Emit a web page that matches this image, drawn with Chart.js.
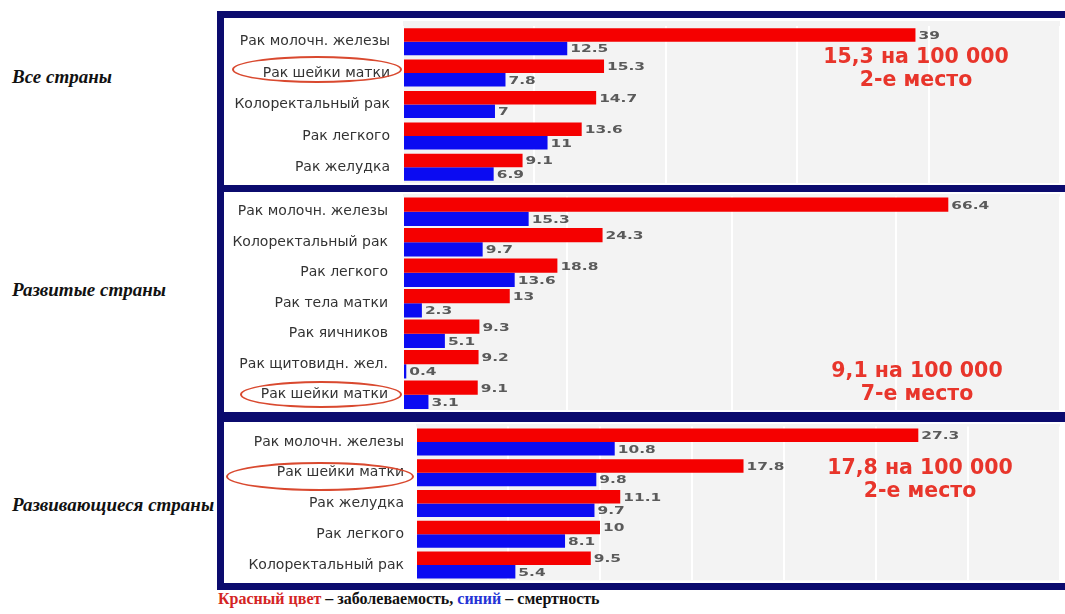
<!DOCTYPE html>
<html lang="ru">
<head>
<meta charset="utf-8">
<title>Заболеваемость и смертность от рака</title>
<script src="https://cdn.jsdelivr.net/npm/chart.js@4.4.1/dist/chart.umd.min.js"></script>
<style>
    body { margin: 0; width: 1065px; height: 614px; background: #fff; position: relative; overflow: hidden; }
    .frame { position: absolute; left: 217px; top: 11px; width: 870px; height: 579px; background: #0b0b6e; }
    canvas { position: absolute; left: 224px; display: block; }
    .region { position: absolute; left: 12px; font: italic bold 19px "Liberation Serif", serif; color: #111; white-space: nowrap; }
    .note { position: absolute; width: 240px; text-align: center; font: bold 20.5px "DejaVu Sans", sans-serif; color: #e8352b; line-height: 23px; z-index: 2; }
    .ring { position: absolute; border: 2px solid #d9492f; border-radius: 50%; box-sizing: border-box; z-index: 2; }
    .legend { position: absolute; left: 218px; top: 590px; font: bold 16px "Liberation Serif", serif; color: #111; white-space: nowrap; }
</style>
</head>
<body>
<div class="frame"></div>
<canvas id="chartAll" width="841" height="167" style="top:18px"></canvas>
<canvas id="chartDeveloped" width="841" height="220" style="top:192px"></canvas>
<canvas id="chartDeveloping" width="841" height="161" style="top:422px"></canvas>

<div class="region" style="top:66px">Все страны</div>
<div class="region" style="top:279px">Развитые страны</div>
<div class="region" style="top:494px">Развивающиеся страны</div>

<div class="note" style="left:796px; top:45px">15,3 на 100 000<br>2-е место</div>
<div class="note" style="left:797px; top:359px">9,1 на 100 000<br>7-е место</div>
<div class="note" style="left:800px; top:456px">17,8 на 100 000<br>2-е место</div>

<div class="ring" style="left:232px; top:56px; width:170px; height:27px"></div>
<div class="ring" style="left:240px; top:381px; width:162px; height:27px"></div>
<div class="ring" style="left:226px; top:462px; width:188px; height:29px"></div>

<div class="legend"><span style="color:#d42424">Красный цвет</span> – заболеваемость, <span style="color:#2433d6">синий</span> – смертность</div>

<script>
// Все страны
const labelsAll = ['Рак молочн. железы', 'Рак шейки матки', 'Колоректальный рак', 'Рак легкого', 'Рак желудка'];
const incidenceAll = [39, 15.3, 14.7, 13.6, 9.1];
const mortalityAll = [12.5, 7.8, 7, 11, 6.9];

// Развитые страны
const labelsDeveloped = ['Рак молочн. железы', 'Колоректальный рак', 'Рак легкого', 'Рак тела матки', 'Рак яичников', 'Рак щитовидн. жел.', 'Рак шейки матки'];
const incidenceDeveloped = [66.4, 24.3, 18.8, 13, 9.3, 9.2, 9.1];
const mortalityDeveloped = [15.3, 9.7, 13.6, 2.3, 5.1, 0.4, 3.1];

// Развивающиеся страны
const labelsDeveloping = ['Рак молочн. железы', 'Рак шейки матки', 'Рак желудка', 'Рак легкого', 'Колоректальный рак'];
const incidenceDeveloping = [27.3, 17.8, 11.1, 10, 9.5];
const mortalityDeveloping = [10.8, 9.8, 9.7, 8.1, 5.4];

Chart.defaults.font.family = '"DejaVu Sans", sans-serif';

// white canvas, grey plot area under the grid
const plotBackground = {
    id: 'plotBackground',
    beforeDraw: function(chart, args, opts) {
        const c = chart.ctx;
        const a = chart.chartArea;
        c.save();
        c.fillStyle = '#ffffff';
        c.fillRect(0, 0, chart.width, chart.height);
        c.fillStyle = '#f3f3f3';
        c.fillRect(a.left, opts.top, a.right - a.left, a.bottom - opts.top);
        c.restore();
    }
};

// numbers at the end of each bar
const valueLabels = {
    id: 'valueLabels',
    afterDatasetsDraw: function(chart) {
        const c = chart.ctx;
        c.save();
        c.font = 'bold 11px "DejaVu Sans"';
        c.fillStyle = '#5a5a5a';
        c.textBaseline = 'middle';
        chart.data.datasets.forEach(function(ds, i) {
            chart.getDatasetMeta(i).data.forEach(function(bar, j) {
                c.save();
                c.translate(bar.x + 3, bar.y + 1);
                c.scale(1.4, 1);
                c.fillText(String(ds.data[j]), 0, 0);
                c.restore();
            });
        });
        c.restore();
    }
};

function drawPanel(id, labels, incidence, mortality, cfg) {
    const ctx = document.getElementById(id).getContext('2d');
    return new Chart(ctx, {
        type: 'bar',
        data: {
            labels: labels,
            datasets: [{
                label: 'Заболеваемость',
                data: incidence,
                backgroundColor: '#f50000',
                categoryPercentage: cfg.catPct,
                barPercentage: 1
            }, {
                label: 'Смертность',
                data: mortality,
                backgroundColor: '#0b0bf2',
                categoryPercentage: cfg.catPct,
                barPercentage: 1
            }]
        },
        options: {
            indexAxis: 'y',
            responsive: false,
            animation: false,
            layout: {
                padding: { top: cfg.padTop, bottom: cfg.padBottom, left: 0, right: 5 }
            },
            plugins: {
                legend: { display: false },
                tooltip: { enabled: false },
                plotBackground: { top: cfg.greyTop }
            },
            scales: {
                x: {
                    min: 0,
                    max: cfg.max,
                    ticks: { display: false, stepSize: cfg.step },
                    grid: { color: '#ffffff', lineWidth: 2, drawTicks: false },
                    border: { display: false },
                    afterFit: function(scale) {
                        scale.height = 0;
                        scale.paddingLeft = 0;
                        scale.paddingRight = 0;
                    }
                },
                y: {
                    ticks: { color: '#333333', font: { size: 14 }, padding: cfg.labelPad, autoSkip: false },
                    grid: { display: false, drawTicks: false },
                    border: { display: false },
                    afterFit: function(scale) {
                        // fixed width for the label column, no extra room above/below
                        scale.width = cfg.axisWidth;
                        scale.paddingTop = 0;
                        scale.paddingBottom = 0;
                    }
                }
            }
        },
        plugins: [plotBackground, valueLabels]
    });
}

drawPanel('chartAll', labelsAll, incidenceAll, mortalityAll,
    { max: 50, step: 10, catPct: 0.86, padTop: 8, padBottom: 2, greyTop: 3, axisWidth: 179, labelPad: 13 });
drawPanel('chartDeveloped', labelsDeveloped, incidenceDeveloped, mortalityDeveloped,
    { max: 80, step: 20, catPct: 0.93, padTop: 4.5, padBottom: 2, greyTop: 2, axisWidth: 179, labelPad: 15 });
drawPanel('chartDeveloping', labelsDeveloping, incidenceDeveloping, mortalityDeveloping,
    { max: 35, step: 5, catPct: 0.88, padTop: 4.6, padBottom: 2.6, greyTop: 2, axisWidth: 192, labelPad: 12 });
</script>
</body>
</html>
